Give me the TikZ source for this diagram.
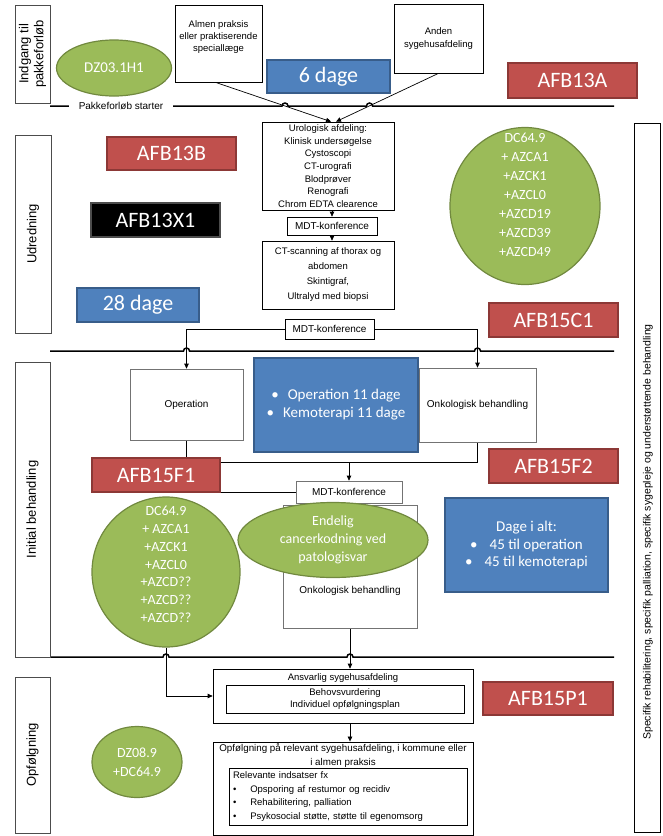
\documentclass[tikz,border=0pt]{standalone}
\usepackage{fontspec}
\setmainfont{Liberation Sans}
\newfontfamily\calfont{Carlito}
\usetikzlibrary{arrows.meta,shapes.geometric}
\definecolor{redf}{HTML}{C0504D}
\definecolor{redd}{HTML}{8C3836}
\definecolor{bluef}{HTML}{4F81BD}
\definecolor{blued}{HTML}{385D8A}
\definecolor{greenf}{HTML}{9BBB59}
\definecolor{greend}{HTML}{71893F}
\newcommand\fsz[2]{\fontsize{#1}{#2}\selectfont}
\pgfdeclarelayer{bg}
\pgfsetlayers{bg,main}
\begin{document}
\begin{tikzpicture}[x=1pt,y=-1pt,
  redbox/.style={rectangle, draw=redd, fill=redf, line width=1.2pt, text=white, font=\calfont\fsz{22}{24}, inner sep=0pt},
  bluebox/.style={rectangle, draw=blued, fill=bluef, line width=1.2pt, text=white, font=\calfont\fsz{22}{24}, inner sep=0pt, align=center},
  blackbox/.style={rectangle, draw=black!70, fill=black, line width=1.2pt, text=white, font=\calfont\fsz{22}{24}, inner sep=0pt},
  greenshape/.style={ellipse, draw=greend, fill=greenf, line width=1.2pt, inner sep=0pt},
  gtext/.style={text=white, font=\calfont\fsz{14}{19}, align=center, inner sep=0pt},
  wbox/.style={rectangle, draw=black, fill=white, line width=0.7pt, align=center, font=\fsz{9.5}{12.7}, inner sep=0pt},
  gbox/.style={rectangle, draw=black!55, fill=white, line width=0.7pt, align=center, font=\fsz{10}{12}, inner sep=0pt},
  txt/.style={align=center, font=\fsz{9.5}{12}, inner sep=0pt},
  phasebox/.style={rectangle, draw=black!70, fill=white, line width=1pt, rotate=90, font=\fsz{13}{15}, align=center, inner sep=0pt},
  sline/.style={line width=1.5pt, black},
  conn/.style={line width=0.7pt, black},
  arr/.style={line width=0.7pt, black, -{Triangle[length=5pt,width=4.5pt]}}
]
\useasboundingbox (0,0) rectangle (662,836);

% phase boxes
\node[phasebox, minimum width=98pt, minimum height=35pt] (ph1) at (32.5,54) {Indgang til\\pakkeforløb};
\node[phasebox, minimum width=198pt, minimum height=36pt] (ph2) at (33,234) {Udredning};
\node[phasebox, minimum width=295pt, minimum height=35pt] (ph3) at (32.5,509.5) {Initial behandling};
\node[phasebox, minimum width=156pt, minimum height=35pt] (ph4) at (32.5,755) {Opfølgning};

% right box
\node[rectangle, draw=black, fill=white, line width=0.8pt, minimum width=26pt, minimum height=709pt] (rbox) at (647,477.5) {};
\node[rotate=90, font=\fsz{10.5}{12}, inner sep=0pt] (rtext) at (648,532) {Specifik rehabilitering, specifik palliation, specifik sygepleje og understøttende behandling};

% section 1
\node[greenshape, minimum width=115pt, minimum height=56pt] (dz03) at (114,68) {};
\node[gtext, font=\calfont\fsz{15}{18}] (dz03t) at (114,68) {DZ03.1H1};
\node[wbox, minimum width=87pt, minimum height=77pt] (almen) at (218.5,43.5) {};
\node[txt, font=\fsz{9.5}{12}] (almentxt) at (218.5,37) {Almen praksis\\eller praktiserende\\speciallæge};
\node[wbox, minimum width=89pt, minimum height=69pt, font=\fsz{9.5}{13}] (anden) at (438.5,38.5) {Anden\\sygehusafdeling};
\node[bluebox, minimum width=123pt, minimum height=33pt] (d6) at (328.5,76.5) {6 dage};
\node[redbox, minimum width=129pt, minimum height=35pt] (afb13a) at (572.5,80.5) {AFB13A};
\node[fill=white, font=\fsz{10}{12}, inner xsep=10pt, inner ysep=2pt] (start) at (121,106) {Pakkeforløb starter};

% section 2
\node[redbox, minimum width=129pt, minimum height=33pt] (afb13b) at (171.5,153.5) {AFB13B};
\node[blackbox, minimum width=129pt, minimum height=34pt] (afb13x1) at (155.5,220) {AFB13X1};
\node[bluebox, minimum width=122pt, minimum height=34pt] (d28) at (138,305) {28 dage};
\node[wbox, minimum width=132pt, minimum height=88pt] (uro) at (328,166) {Urologisk afdeling:\\Klinisk undersøgelse\\Cystoscopi\\CT-urografi\\Blodprøver\\Renografi\\Chrom EDTA clearence};
\node[wbox, minimum width=90pt, minimum height=18pt, font=\fsz{10}{12}] (mdt1) at (332,226) {MDT-konference};
\node[wbox, minimum width=132pt, minimum height=68pt, font=\fsz{9.5}{15}] (ct) at (328,275) {CT-scanning af thorax og\\abdomen\\Skintigraf,\\Ultralyd med biopsi};
\node[greenshape, minimum width=150pt, minimum height=157pt] (circ1) at (525,206) {};
\node[gtext] (circ1t) at (525,195) {DC64.9\\+ AZCA1\\+AZCK1\\+AZCL0\\+AZCD19\\+AZCD39\\+AZCD49};
\node[redbox, minimum width=129pt, minimum height=34pt] (afb15c1) at (553.5,320) {AFB15C1};
\node[wbox, minimum width=89pt, minimum height=20pt, font=\fsz{10}{12}] (mdt2) at (329.5,329) {MDT-konference};

% section 3
\node[gbox, minimum width=113pt, minimum height=71pt] (op) at (186.5,404.5) {Operation};
\node[bluebox, minimum width=164pt, minimum height=94pt, font=\calfont\fsz{15}{18}] (blue1) at (336,405) {\textbullet\hspace{9pt}Operation 11 dage\\\textbullet\hspace{9pt}Kemoterapi 11 dage};
\node[gbox, minimum width=117pt, minimum height=74pt] (onk) at (477.5,405) {Onkologisk behandling};
\node[redbox, minimum width=129pt, minimum height=34pt] (afb15f2) at (553.5,466) {AFB15F2};
\node[redbox, minimum width=128pt, minimum height=34pt] (afb15f1) at (156,475) {AFB15F1};
\node[gbox, minimum width=106pt, minimum height=22pt] (mdt3) at (349,492) {MDT-konference};
\node[gbox, minimum width=134pt, minimum height=123pt] (onk2) at (350,566.5) {};
\node[txt, font=\fsz{10}{12}] (onk2t) at (350,591) {Onkologisk behandling};
\node[greenshape, minimum width=190pt, minimum height=75pt, text=white, font=\calfont\fsz{14}{18}, align=center] (endelig) at (333,540) {Endelig\\cancerkodning ved\\patologisvar};
\node[greenshape, minimum width=148pt, minimum height=150pt] (circ2) at (166,572) {};
\node[gtext, font=\calfont\fsz{14}{17.8}] (circ2t) at (166,564.5) {DC64.9\\+ AZCA1\\+AZCK1\\+AZCL0\\+AZCD??\\+AZCD??\\+AZCD??};
\node[bluebox, minimum width=163pt, minimum height=94pt, font=\calfont\fsz{15}{17.5}] (dage) at (526.5,545) {Dage i alt:\\\textbullet\hspace{12pt}45 til operation\\\textbullet\hspace{12pt}45 til kemoterapi};

% section 4
\node[wbox, minimum width=260pt, minimum height=54pt] (ansv) at (343,696) {};
\node[txt, font=\fsz{9.5}{12}] (ansvt) at (343,678) {Ansvarlig sygehusafdeling};
\node[wbox, minimum width=238pt, minimum height=28pt, font=\fsz{9.5}{12}] (ansvin) at (345,699) {Behovsvurdering\\Individuel opfølgningsplan};
\node[wbox, minimum width=260pt, minimum height=93pt, line width=0.9pt] (opf) at (343,788.5) {};
\node[txt, font=\fsz{9.8}{14}] (opft) at (343,756) {Opfølgning på relevant sygehusafdeling, i kommune eller\\i almen praksis};
\node[wbox, minimum width=238pt, minimum height=57pt, text width=230pt, align=left, font=\fsz{9.5}{13.7}, line width=0.9pt] (opfin) at (348,796.5) {Relevante indsatser fx\\\textbullet\hspace{14pt}Opsporing af restumor og recidiv\\\textbullet\hspace{14pt}Rehabilitering, palliation\\\textbullet\hspace{14pt}Psykosocial støtte, støtte til egenomsorg};
\node[redbox, minimum width=130pt, minimum height=33pt] (afb15p1) at (548,698.5) {AFB15P1};
\node[greenshape, minimum width=90pt, minimum height=71pt, text=white, font=\calfont\fsz{14}{19}, align=center] (dz08) at (137,762) {DZ08.9\\+DC64.9};

\coordinate (jl) at (186.5,462);

\begin{pgfonlayer}{bg}
% section lines with hops
\draw[sline] (50,106) -- (282,106) arc[start angle=180,end angle=360,radius=3] -- (366.5,106) arc[start angle=180,end angle=360,radius=3] -- (614,106);
\draw[sline] (50,351) -- (183.5,351) arc[start angle=180,end angle=360,radius=3] -- (474.5,351) arc[start angle=180,end angle=360,radius=3] -- (614,351);
\draw[sline] (50,657) -- (163,657) arc[start angle=180,end angle=360,radius=3] -- (347,657) arc[start angle=180,end angle=360,radius=3] -- (614,657);
% connectors
\draw[arr] ([xshift=-3pt]almen.south) -- ([xshift=3pt]uro.north);
\draw[arr] (anden.south) -- ([xshift=8pt]uro.north);
\draw[arr] (mdt1.north |- uro.south) -- (mdt1.north);
\draw[arr] (mdt1.south) -- (mdt1.south |- ct.north);
\draw[arr] (mdt2.west) -| (op.north);
\draw[arr] (mdt2.east) -| (onk.north);
\draw[conn] (op.south) |- (mdt3.west);
\draw[conn] (onk.south) |- (jl);
\draw[arr] (mdt3.north |- jl) -- (mdt3.north);
\draw[arr] (onk2.south) -- (onk2.south |- ansv.north);
\draw[arr] (circ2.south) |- (ansv.west);
\draw[arr] ([xshift=7pt]ansv.south) -- ([xshift=7pt]opf.north);
\end{pgfonlayer}
\end{tikzpicture}
\end{document}
